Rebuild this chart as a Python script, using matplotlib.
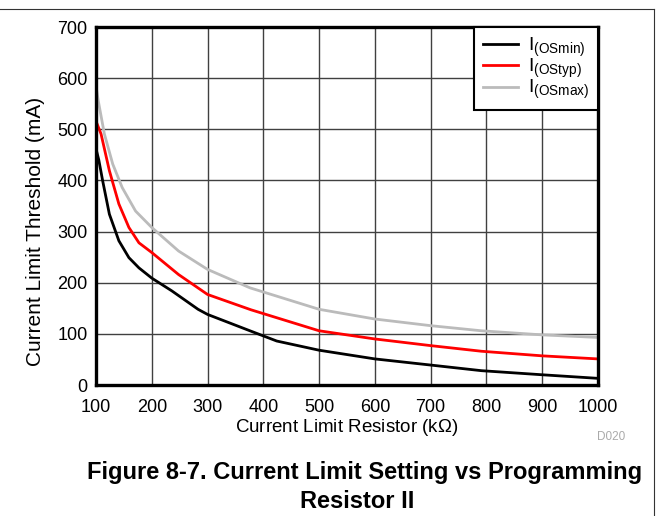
import matplotlib.pyplot as plt
from matplotlib.lines import Line2D

plt.rcParams['font.family'] = ['Liberation Sans', 'DejaVu Sans']
plt.rcParams['mathtext.default'] = 'regular'

# resistor (kOhm) vs current limit threshold (mA)
r_min = [100, 105, 112, 124, 141, 159, 177, 200, 236, 283, 300, 376, 424,
         500, 600, 700, 791, 900, 1000]
i_min = [462, 440, 399, 334, 282, 249, 229, 209, 184, 148, 138, 106, 86,
         68, 51, 39, 28, 20, 13]

r_typ = [100, 109, 124, 141, 159, 177, 200, 248, 300, 378, 500, 600, 700,
         791, 900, 1000]
i_typ = [516, 491, 419, 354, 308, 278, 259, 216, 177, 147, 106, 90, 77,
         66, 57, 51]

r_max = [100, 104, 115, 130, 147, 171, 200, 248, 300, 376, 500, 600, 700,
         791, 900, 1000]
i_max = [585, 556, 491, 432, 386, 340, 308, 262, 226, 190, 148, 129, 116,
         106, 98, 93]

x_ticks = [100, 200, 300, 400, 500, 600, 700, 800, 900, 1000]
y_ticks = [0, 100, 200, 300, 400, 500, 600, 700]

W, H = 658, 516
fig = plt.figure(figsize=(W / 100, H / 100), dpi=100)
ax = fig.add_axes([96 / W, 1 - 385 / H, (598 - 96) / W, (385 - 27) / H])

ax.plot(r_min, i_min, color='black', lw=2, label=r'I$_{(OSmin)}$')
ax.plot(r_typ, i_typ, color='#ff0000', lw=2, label=r'I$_{(OStyp)}$')
ax.plot(r_max, i_max, color='#bbbbbb', lw=2, label=r'I$_{(OSmax)}$')

ax.set_xlim(100, 1000)
ax.set_ylim(0, 700)
ax.set_xticks(x_ticks)
ax.set_yticks(y_ticks)
ax.tick_params(labelsize=13, length=0)
ax.tick_params(axis='x', pad=10)
ax.tick_params(axis='y', pad=6)
ax.grid(True, color='#404040', lw=1)
ax.set_axisbelow(True)
for s in ax.spines.values():
    s.set_linewidth(2.4)

fig.text(347 / W, 1 - 428 / H, 'Current Limit Resistor (k$\\Omega$)',
         fontsize=13.5, ha='center', va='center')
fig.text(36 / W, 1 - 231 / H, 'Current Limit Threshold (mA)',
         fontsize=15, rotation=90, ha='center', va='center')

leg = ax.legend(loc='upper right', fontsize=14, frameon=True, fancybox=False,
                edgecolor='black', framealpha=1, borderaxespad=0,
                handlelength=1.8, handletextpad=0.5, labelspacing=-0.1,
                borderpad=0.45)
leg.get_frame().set_linewidth(1.5)

fig.text(611 / W, 1 - 437 / H, 'D020', fontsize=8.5, color='#aaaaaa',
         ha='center', va='center')
fig.text(365 / W, 1 - 472 / H, 'Figure 8-7. Current Limit Setting vs Programming',
         fontsize=17, fontweight='bold', ha='center', va='center')
fig.text(357 / W, 1 - 501 / H, 'Resistor II',
         fontsize=17, fontweight='bold', ha='center', va='center')

# figure frame (top and right edges)
fig.add_artist(Line2D([0, 654 / W], [1 - 9 / H, 1 - 9 / H],
                      transform=fig.transFigure, color='#333333', lw=0.8))
fig.add_artist(Line2D([654 / W, 654 / W], [1 - 9 / H, 0],
                      transform=fig.transFigure, color='#333333', lw=0.8))

fig.savefig('out.png', dpi=100)
